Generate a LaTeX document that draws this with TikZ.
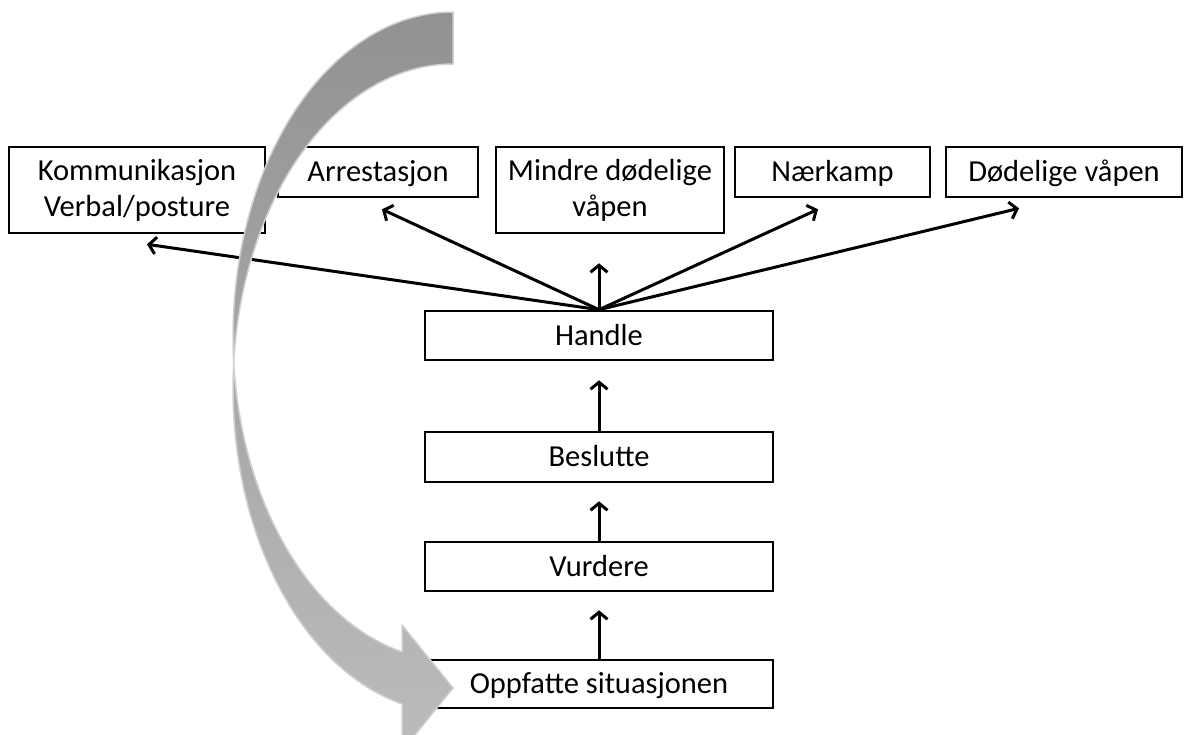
\documentclass[tikz,border=0pt]{standalone}
\usepackage{fontspec}
\setmainfont{Carlito}
\usetikzlibrary{arrows.meta,calc}
\definecolor{bandtop}{RGB}{146,146,146}
\definecolor{bandbot}{RGB}{188,188,188}
\definecolor{bandedge}{RGB}{208,208,208}
\begin{document}
\begin{tikzpicture}[x=1pt,y=-1pt,
  box/.style={draw=black, line width=2.6pt, fill=white, inner sep=0pt, align=center,
              font=\fontsize{30.5}{36}\selectfont},
  oneline/.style={text height=25.6pt, text depth=6pt},
  conn/.style={line width=3pt, -{Straight Barb[length=7pt,width=17pt]}},
  ]
\useasboundingbox (0,0) rectangle (1192,735);
\fill[white] (0,0) rectangle (1192,735);

% top row
\node[box, minimum width=256pt, minimum height=86pt] (komm) at (137,190) {Kommunikasjon\\Verbal/posture};
\node[box, oneline, minimum width=200pt, minimum height=50pt] (arrest) at (378,172) {Arrestasjon};
\node[box, minimum width=228pt, minimum height=86pt] (mindre) at (610,190) {Mindre dødelige\\våpen};
\node[box, oneline, minimum width=195pt, minimum height=50pt] (naer) at (832.5,172) {Nærkamp};
\node[box, oneline, minimum width=236pt, minimum height=50pt] (dod) at (1064,172) {Dødelige våpen};

% column
\node[box, oneline, minimum width=348pt, minimum height=49pt] (handle) at (599,335.5) {Handle};
\node[box, oneline, minimum width=348pt, minimum height=50pt] (beslutte) at (599,457) {Beslutte};
\node[box, oneline, minimum width=348pt, minimum height=49pt] (vurdere) at (599,566.5) {Vurdere};
\node[box, oneline, minimum width=348pt, minimum height=48pt] (oppfatte) at (599,684) {Oppfatte situasjonen};

% connectors
\draw[conn] (handle.north) -- ($(komm.south)+(10,10)$);
\draw[conn] (handle.north) -- ($(arrest.south)+(4,11)$);
\draw[conn] (handle.north) -- (handle.north |- {$(mindre.south)+(0,29)$});
\draw[conn] (handle.north) -- ($(naer.south)+(-14.5,11)$);
\draw[conn] (handle.north) -- ($(dod.south)+(-45,10)$);
\draw[conn] (beslutte.north) -- ($(handle.south)+(0,19)$);
\draw[conn] (vurdere.north) -- ($(beslutte.south)+(0,18)$);
\draw[conn] (oppfatte.north) -- ($(vurdere.south)+(0,18)$);

% curved gray arrow
\shadedraw[top color=bandtop, bottom color=bandbot, draw=bandedge, line width=1.5pt, line join=round]
  plot[domain=270:103.4, samples=90, variable=\t] ({453+220*cos(\t)}, {336.4+324.4*sin(\t)})
  -- (402,625) -- (453,688) -- (402,751) -- (402,704)
  -- plot[domain=103.4:270, samples=90, variable=\t] ({453+220*cos(\t)}, {388.4+324.4*sin(\t)})
  -- cycle;
\end{tikzpicture}
\end{document}
